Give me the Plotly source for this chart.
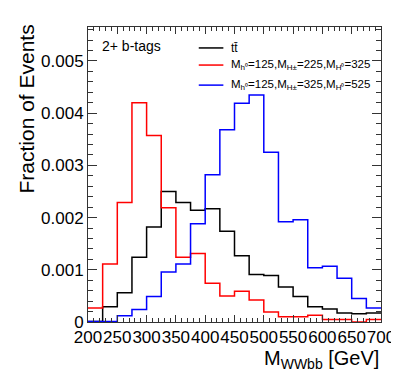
import plotly.graph_objects as go

bin_edges = list(range(200, 725, 25))

ttbar = [0.00001, 0.00029, 0.00056, 0.00124, 0.00182, 0.00250, 0.00229, 0.00214, 0.00217, 0.00174,
         0.00127, 0.00091, 0.00089, 0.00067, 0.00049, 0.00029, 0.00025, 0.00017, 0.00016, 0.00017]
sig_225_325 = [0.00027, 0.00111, 0.00229, 0.00420, 0.00357, 0.00219, 0.00124, 0.00131, 0.00074, 0.00050,
               0.00059, 0.00042, 0.00019, 0.00010, 0.00010, 0.00013, 0.00005, 0.00005, 0.00000, 0.00005]
sig_325_525 = [0.00001, 0.00001, 0.00012, 0.00024, 0.00049, 0.00096, 0.00111, 0.00188, 0.00282, 0.00368,
               0.00419, 0.00435, 0.00325, 0.00192, 0.00196, 0.00104, 0.00107, 0.00084, 0.00045, 0.00027]

series = [
    ("tt\u0304", ttbar, "#000000"),
    ("M<sub>h\u2070</sub>=125,M<sub>H\u00b1</sub>=225,M<sub>H\u2070</sub>=325", sig_225_325, "#ff0000"),
    ("M<sub>h\u2070</sub>=125,M<sub>H\u00b1</sub>=325,M<sub>H\u2070</sub>=525", sig_325_525, "#0000ff"),
]

FONT = "Liberation Sans, Arial, Helvetica, sans-serif"

fig = go.Figure()
for name, values, color in series:
    fig.add_trace(
        go.Scatter(
            x=bin_edges,
            y=values + [values[-1]],
            mode="lines",
            line={"shape": "hv", "color": color, "width": 1.5},
            name=name,
        )
    )

axis_common = dict(
    showline=True,
    linecolor="#333333",
    linewidth=1,
    mirror="allticks",
    ticks="inside",
    tickcolor="#333333",
    showgrid=False,
    zeroline=False,
    tickfont={"size": 17, "color": "#000000"},
)

fig.update_layout(
    width=399,
    height=375,
    margin={"l": 80, "r": 20, "t": 19, "b": 61},
    paper_bgcolor="white",
    plot_bgcolor="white",
    font={"family": FONT, "color": "#000000"},
    showlegend=False,
    xaxis=dict(
        axis_common,
        range=[200, 700],
        dtick=50,
        tickangle=0,
        ticklen=7,
        minor={"ticks": "inside", "dtick": 10, "ticklen": 4, "tickcolor": "#333333"},
    ),
    yaxis=dict(
        axis_common,
        range=[0, 0.00565],
        tickvals=[0, 0.001, 0.002, 0.003, 0.004, 0.005],
        ticktext=["0", "0.001", "0.002", "0.003", "0.004", "0.005"],
        ticklen=9,
        minor={"ticks": "inside", "dtick": 0.0002, "ticklen": 5, "tickcolor": "#333333"},
    ),
)

# ROOT-style legend box: short line sample + label
legend_rows = [0.929, 0.871, 0.803]
legend_sizes = [12, 11.5, 11.5]
for (name, _, color), row_y, size in zip(series, legend_rows, legend_sizes):
    fig.add_shape(
        type="line",
        xref="paper", yref="paper",
        x0=0.378, x1=0.462, y0=row_y, y1=row_y,
        line={"color": color, "width": 1.5},
    )
    fig.add_annotation(
        text=name,
        xref="paper", yref="paper",
        x=0.482, y=row_y,
        xanchor="left", yanchor="middle",
        showarrow=False,
        font={"size": size},
    )

fig.add_annotation(
    text="Fraction of Events",
    xref="paper", yref="paper",
    x=-0.21, y=1.015,
    xanchor="center", yanchor="top",
    textangle=-90,
    showarrow=False,
    font={"size": 21},
)
fig.add_annotation(
    text="M<sub>WWbb</sub> [GeV]",
    xref="paper", yref="paper",
    x=1.0, y=-0.128,
    xanchor="right", yanchor="middle",
    showarrow=False,
    font={"size": 20},
)
fig.add_annotation(
    text="2+ b-tags",
    xref="paper", yref="paper",
    x=0.04, y=0.97,
    xanchor="left", yanchor="top",
    showarrow=False,
    font={"size": 14},
)

fig.write_html("out.html")
